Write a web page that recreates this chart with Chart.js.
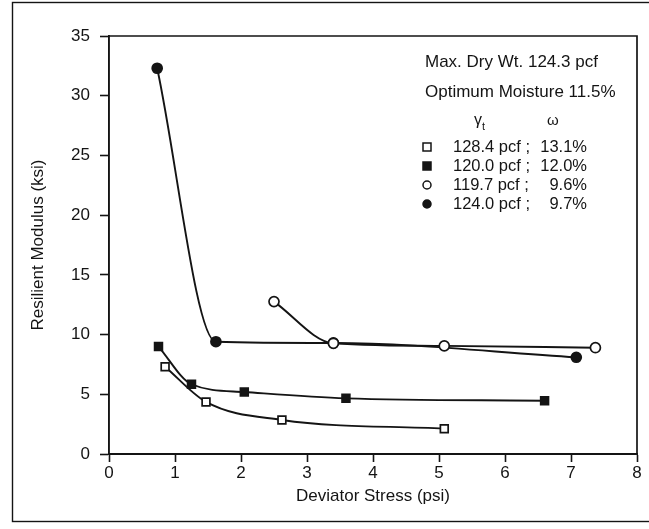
<!DOCTYPE html>
<html>
<head>
<meta charset="utf-8">
<script src="https://cdn.jsdelivr.net/npm/chart.js@4.4.1/dist/chart.umd.min.js"></script>
<style>
html,body{margin:0;padding:0;background:#fff;}
#wrap{width:649px;height:529px;position:relative;}
</style>
</head>
<body>
<div id="wrap"><canvas id="c" width="649" height="529"></canvas></div>
<script>
// Data
const xTicks = [0, 1, 2, 3, 4, 5, 6, 7, 8];
const yTicks = [0, 5, 10, 15, 20, 25, 30, 35];

const openSquareX = [0.85, 1.47, 2.62, 5.08];
const openSquareY = [7.31, 4.36, 2.85, 2.12];

const filledSquareX = [0.75, 1.25, 2.05, 3.59, 6.60];
const filledSquareY = [9.0, 5.84, 5.19, 4.66, 4.46];

const openCircleX = [2.50, 3.40, 5.08, 7.37];
const openCircleY = [12.76, 9.27, 9.05, 8.9];

const filledCircleX = [0.73, 1.62, 3.40, 7.08];
const filledCircleY = [32.3, 9.4, 9.3, 8.1];

const headerLines = ["Max. Dry Wt. 124.3 pcf", "Optimum Moisture 11.5%"];
const legendDensity = ["128.4 pcf ;", "120.0 pcf ;", "119.7 pcf ;", "124.0 pcf ;"];
const legendMoisture = ["13.1%", "12.0%", "9.6%", "9.7%"];
const legendStyle = ["openSquare", "filledSquare", "openCircle", "filledCircle"];

const INK = '#141414';
const FONT = '"Liberation Sans", Arial, Helvetica, sans-serif';

function pts(xs, ys){ return xs.map((x,i)=>({x:x, y:ys[i]})); }

function ds(label, xs, ys, style, order){
  const isSquare = style.indexOf('Square') >= 0;
  const filled = style.indexOf('filled') === 0;
  return {
    label: label,
    data: pts(xs, ys),
    showLine: true,
    cubicInterpolationMode: 'monotone',
    borderColor: INK,
    borderWidth: 1.9,
    pointStyle: isSquare ? 'rect' : 'circle',
    pointRadius: isSquare ? 5.5 : 5,
    pointBorderWidth: 1.7,
    pointBorderColor: INK,
    pointBackgroundColor: filled ? INK : '#ffffff',
    order: order
  };
}

const framePlugin = {
  id: 'frame',
  beforeDraw(chart){
    const ctx = chart.ctx;
    ctx.save();
    ctx.fillStyle = '#fff';
    ctx.fillRect(0,0,chart.width,chart.height);
    ctx.restore();
  },
  afterDraw(chart){
    const ctx = chart.ctx;
    const a = chart.chartArea;
    ctx.save();
    ctx.strokeStyle = INK;
    ctx.lineWidth = 1.7;
    // plot box (top + right)
    ctx.beginPath();
    ctx.moveTo(a.left, a.top);
    ctx.lineTo(a.right, a.top);
    ctx.lineTo(a.right, a.bottom);
    ctx.stroke();
    // outer picture frame
    ctx.lineWidth = 1.4;
    ctx.strokeRect(12.5, 2.5, 660, 519);

    // legend / annotation text
    ctx.fillStyle = INK;
    ctx.textBaseline = 'middle';
    ctx.font = '17px ' + FONT;
    ctx.textAlign = 'left';
    ctx.fillText(headerLines[0], 425, 62);
    ctx.fillText(headerLines[1], 425, 92);
    // gamma_t and omega header
    ctx.font = '16px ' + FONT;
    ctx.fillText('\u03B3', 474, 121);
    ctx.font = '11px ' + FONT;
    ctx.fillText('t', 482, 127);
    ctx.font = '15px ' + FONT;
    ctx.fillText('\u03C9', 547, 121);

    const rows = [147, 166, 185, 204];
    ctx.font = '16.5px ' + FONT;
    for (let i = 0; i < rows.length; i++){
      const y = rows[i];
      ctx.textAlign = 'left';
      ctx.fillText(legendDensity[i], 453, y);
      ctx.textAlign = 'right';
      ctx.fillText(legendMoisture[i], 587, y);
      // marker
      const st = legendStyle[i];
      ctx.lineWidth = 1.5;
      ctx.strokeStyle = INK;
      ctx.beginPath();
      if (st.indexOf('Square') >= 0){
        ctx.rect(423, y-4, 8, 8);
      } else {
        ctx.arc(427, y, 4, 0, Math.PI*2);
      }
      if (st.indexOf('filled') === 0){ ctx.fillStyle = INK; ctx.fill(); }
      else { ctx.fillStyle = '#fff'; ctx.fill(); }
      ctx.stroke();
      ctx.fillStyle = INK;
    }
    ctx.restore();
  }
};

new Chart(document.getElementById('c'), {
  type: 'scatter',
  data: {
    datasets: [
      ds('128.4 pcf ; 13.1%', openSquareX, openSquareY, 'openSquare', 2),
      ds('120.0 pcf ; 12.0%', filledSquareX, filledSquareY, 'filledSquare', 3),
      ds('119.7 pcf ; 9.6%', openCircleX, openCircleY, 'openCircle', 0),
      ds('124.0 pcf ; 9.7%', filledCircleX, filledCircleY, 'filledCircle', 1)
    ]
  },
  options: {
    responsive: false,
    animation: false,
    devicePixelRatio: 1,
    layout: { padding: { left: 24, right: 12, top: 36, bottom: 18 } },
    plugins: { legend: { display: false }, tooltip: { enabled: false } },
    scales: {
      x: {
        type: 'linear',
        min: 0, max: 8,
        afterBuildTicks: s => { s.ticks = xTicks.map(v => ({value: v})); },
        afterFit: s => { s.height = 57; },
        grid: { drawOnChartArea: false, drawTicks: true, tickLength: 8, color: INK, tickWidth: 1.6 },
        border: { display: true, color: INK, width: 1.9 },
        ticks: { color: INK, font: { family: FONT, size: 17 }, padding: 1, maxRotation: 0 },
        title: { display: true, text: 'Deviator Stress (psi)', color: INK, font: { family: FONT, size: 17 }, padding: { top: 2, bottom: 4 } }
      },
      y: {
        type: 'linear',
        min: 0, max: 35,
        afterBuildTicks: s => { s.ticks = yTicks.map(v => ({value: v})); },
        afterFit: s => { s.width = 85; },
        grid: { drawOnChartArea: false, drawTicks: true, tickLength: 9, color: INK, tickWidth: 1.6 },
        border: { display: true, color: INK, width: 1.9 },
        ticks: { color: INK, font: { family: FONT, size: 17 }, padding: 10 },
        title: { display: true, text: 'Resilient Modulus (ksi)', color: INK, font: { family: FONT, size: 17 }, padding: { top: 4, bottom: 4 } }
      }
    }
  },
  plugins: [framePlugin]
});
</script>
</body>
</html>
